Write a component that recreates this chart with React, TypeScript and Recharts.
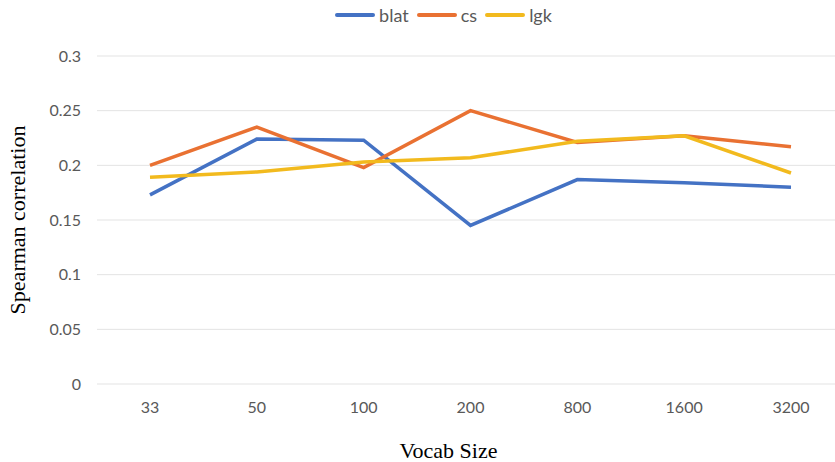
import React from 'react';
import { LineChart, Line, XAxis, YAxis, CartesianGrid, Legend } from 'recharts';

const vocabSizes = ['33', '50', '100', '200', '800', '1600', '3200'];
const blat = [0.173, 0.224, 0.223, 0.145, 0.187, 0.184, 0.18];
const cs = [0.2, 0.235, 0.198, 0.25, 0.221, 0.227, 0.217];
const lgk = [0.189, 0.194, 0.203, 0.207, 0.222, 0.227, 0.193];
const yTicks = [0, 0.05, 0.1, 0.15, 0.2, 0.25, 0.3];

const seriesList = [
  { key: 'blat', color: '#4472C4' },
  { key: 'cs', color: '#E97132' },
  { key: 'lgk', color: '#F2BA1E' },
];

const data = vocabSizes.map((v, i) => ({ vocab: v, blat: blat[i], cs: cs[i], lgk: lgk[i] }));

const tickFont = { fill: '#595959', fontSize: 16, fontFamily: 'Lato, "Open Sans", sans-serif' };

const LegendContent = () => (
  <div style={{ display: 'flex', justifyContent: 'center', alignItems: 'center', fontFamily: 'Lato, "Open Sans", sans-serif', fontSize: 18, color: '#595959' }}>
    {seriesList.map(s => (
      <div key={s.key} style={{ display: 'flex', alignItems: 'center', marginRight: 8 }}>
        <svg width={40} height={10}>
          <line x1={2} y1={5} x2={38} y2={5} stroke={s.color} strokeWidth={4} strokeLinecap="round" />
        </svg>
        <span style={{ marginLeft: 4 }}>{s.key}</span>
      </div>
    ))}
  </div>
);

export default function App() {
  return (
    <div style={{ position: 'absolute', left: 0, top: 0, width: 835, height: 462, overflow: 'hidden', background: '#fff' }}>
      <LineChart width={852} height={462} data={data} margin={{ top: 34, right: 8, bottom: 48, left: 0 }}>
        <CartesianGrid vertical={false} stroke="#e3e3e3" />
        <XAxis
          dataKey="vocab"
          axisLine={false}
          tickLine={false}
          tick={tickFont}
          tickMargin={12}
          padding={{ left: 53, right: 53 }}
          label={{ value: 'Vocab Size', position: 'insideBottom', offset: -44, dx: -22, style: { fontFamily: '"Liberation Serif", serif', fontSize: 22, fill: '#000' } }}
        />
        <YAxis
          width={97}
          domain={[0, 0.3]}
          ticks={yTicks}
          axisLine={false}
          tickLine={false}
          tick={tickFont}
          tickMargin={10}
          label={{ value: 'Spearman correlation', angle: -90, position: 'insideLeft', offset: 17, style: { textAnchor: 'middle', fontFamily: '"Liberation Serif", serif', fontSize: 22, fill: '#000' } }}
        />
        <Legend verticalAlign="top" align="center" content={<LegendContent />} wrapperStyle={{ top: 4, left: 30, width: 835 }} />
        {seriesList.map(s => (
          <Line key={s.key} type="linear" dataKey={s.key} stroke={s.color} strokeWidth={3.5} dot={false} isAnimationActive={false} />
        ))}
      </LineChart>
    </div>
  );
}
